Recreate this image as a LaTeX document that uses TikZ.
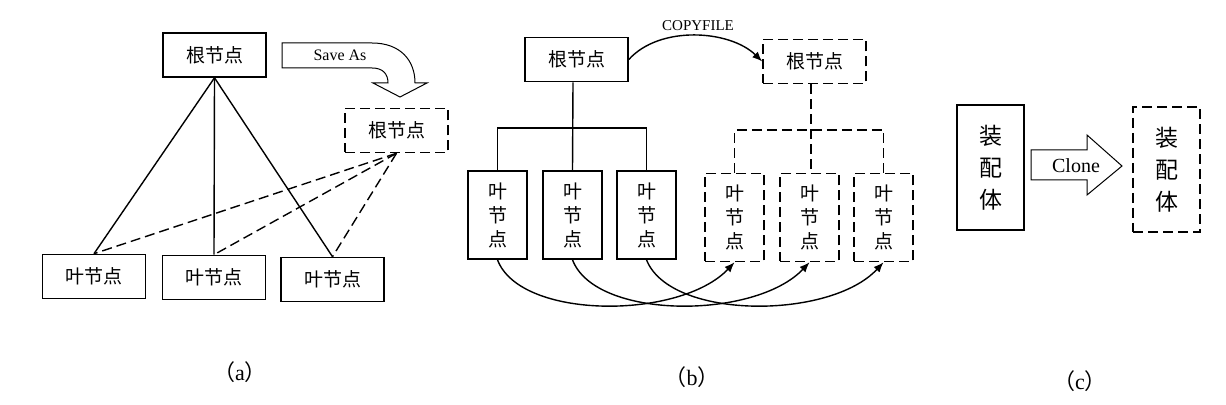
\documentclass[tikz,border=0pt]{standalone}
\usepackage{fontspec}
\setmainfont{Liberation Serif}
\newfontfamily\cjk{Noto Sans CJK SC}
\usetikzlibrary{arrows.meta}
\tikzset{
  box/.style={draw, line width=0.8pt, inner sep=0pt, align=center,
    font=\cjk\fontsize{9.5}{12}\selectfont},
  dbox/.style={box, dash pattern=on 5pt off 2.5pt},
  hbox/.style={minimum width=51.5pt, minimum height=22pt},
  vbox/.style={minimum width=29.5pt, minimum height=44pt},
  abox/.style={minimum width=33.5pt, minimum height=62.5pt,
    font=\cjk\fontsize{11.5}{16}\selectfont},
  link/.style={line width=0.7pt},
  dlink/.style={link, dash pattern=on 5pt off 2.5pt},
  copyarrow/.style={link, -{Latex[length=5pt,width=4pt]}},
  blockarrow/.style={draw, fill=white, line width=0.5pt},
  caption/.style={font=\fontsize{11}{13}\selectfont}
}
\newcommand{\subcap}[1]{{\cjk （}#1{\cjk ）}}
\begin{document}
\begin{tikzpicture}[x=0.5pt,y=-0.5pt]
    \useasboundingbox (0,0) rectangle (1226,405);

    % (a) Save As
    \node[box, hbox] (ra) at (214.5,55) {根节点};
    \node[dbox, hbox] (sa) at (396.5,130.5) {根节点};
    \node[box, hbox] (la1) at (94,276.5) {叶节点};
    \node[box, hbox] (la2) at (214,277.5) {叶节点};
    \node[box, hbox] (la3) at (332.5,279.5) {叶节点};
    \foreach \l in {la1,la2,la3} {
        \draw[link] (ra.south) -- (\l.north);
        \draw[dlink] (sa.south) -- (\l.north);
    }
    \draw[blockarrow] (282,43) -- (372,43) .. controls (400,43) and (415,60) .. (415,83)
        -- (427,83) -- (400,97) -- (373,83) -- (388,83)
        .. controls (388,74) and (383,68) .. (372,68) -- (282,68) -- cycle;
    \node[font=\fontsize{8}{10}\selectfont] (saveas) at (340,55) {Save As};
    \node[caption] (capa) at (240,372) {\subcap{a}};

    % (b) COPYFILE
    \node[box, hbox] (rb) at (576.5,59.5) {根节点};
    \node[dbox, hbox] (rd) at (814.5,61.5) {根节点};
    \node[box, vbox] (lb1) at (497.5,215) {叶\\节\\点};
    \node[box, vbox] (lb2) at (572.5,215) {叶\\节\\点};
    \node[box, vbox] (lb3) at (646.5,215) {叶\\节\\点};
    \node[dbox, vbox] (ld1) at (734.5,217.5) {叶\\节\\点};
    \node[dbox, vbox] (ld2) at (809.5,217.5) {叶\\节\\点};
    \node[dbox, vbox] (ld3) at (883.5,217.5) {叶\\节\\点};
    \coordinate (hb) at (573,128);
    \draw[link] (rb.south -| hb) -- (lb2.north);
    \draw[link] (lb1.north) |- (hb) -| (lb3.north);
    \coordinate (hd) at (811,130);
    \draw[dlink] (rd.south -| hd) -- (ld2.north -| hd);
    \draw[dlink] (ld1.north) |- (hd) -| (ld3.north);
    \draw[copyarrow] (rb.east) .. controls (660,25) and (730,30) .. (rd.west);
    \node[font=\fontsize{7.5}{9}\selectfont] (copyfile) at (698,26) {COPYFILE};
    \draw[copyarrow] (lb1.south) .. controls (520,320) and (680,320) .. (ld1.south);
    \draw[copyarrow] (lb2.south) .. controls (595,320) and (755,320) .. (ld2.south);
    \draw[copyarrow] (lb3.south) .. controls (670,320) and (830,320) .. (ld3.south);
    \node[caption] (capb) at (692,377) {\subcap{b}};

    % (c) Clone
    \node[box, abox] (ac) at (990.5,167.5) {装\\配\\体};
    \node[dbox, abox] (ad) at (1166.5,169.5) {装\\配\\体};
    \draw[blockarrow] (1031,150) -- (1087,150) -- (1087,135) -- (1122,166)
        -- (1087,195) -- (1087,180) -- (1031,180) -- cycle;
    \node[font=\fontsize{10}{12}\selectfont] (clone) at (1076,166) {Clone};
    \node[caption] (capc) at (1080,381) {\subcap{c}};
\end{tikzpicture}
\end{document}
